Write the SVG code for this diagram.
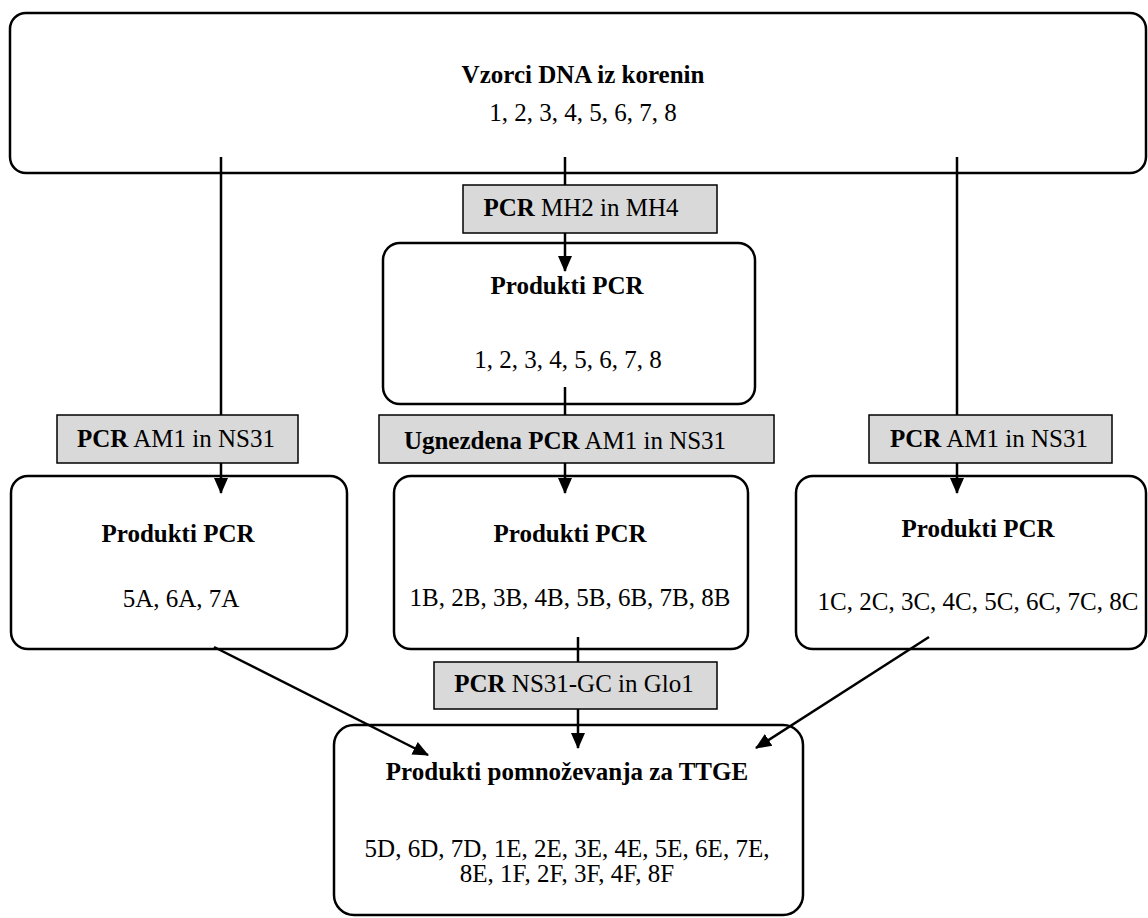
<svg xmlns="http://www.w3.org/2000/svg" width="1148" height="918" viewBox="0 0 1148 918">
<style>
.box{fill:#fff;stroke:#000;stroke-width:2.5}
.lbl{fill:#d9d9d9;stroke:#000;stroke-width:1.5}
.t{font-family:"Liberation Serif","Times New Roman",serif;font-size:25px;text-anchor:middle;fill:#000}
.b{font-weight:bold}
.c{stroke:#000;stroke-width:2.5;fill:none}
</style>
<defs>
<marker id="ah" markerUnits="userSpaceOnUse" markerWidth="16" markerHeight="16" viewBox="0 0 16 16" refX="15" refY="8" orient="auto">
<path d="M0,1 L16,8 L0,15 Z" fill="#000"/>
</marker>
</defs>
<g id="n-top">
<rect class="box" x="10" y="13" width="1136" height="160" rx="16"/>
<text class="t b" x="583" y="83">Vzorci DNA iz korenin</text>
<text class="t" x="583" y="121">1, 2, 3, 4, 5, 6, 7, 8</text>
</g>
<g id="n-lbl-mh">
<rect class="lbl" x="463" y="185" width="254" height="48"/>
<text class="t" x="581" y="216"><tspan class="b">PCR</tspan> MH2 in MH4</text>
</g>
<g id="n-mid1">
<rect class="box" x="383" y="243" width="372" height="161" rx="17"/>
<text class="t b" x="567" y="294">Produkti PCR</text>
<text class="t" x="568" y="368">1, 2, 3, 4, 5, 6, 7, 8</text>
</g>
<g id="n-lbl-left">
<rect class="lbl" x="57" y="415" width="241" height="48"/>
<text class="t" x="176" y="447"><tspan class="b">PCR</tspan> AM1 in NS31</text>
</g>
<g id="n-lbl-mid">
<rect class="lbl" x="379" y="415" width="395" height="48"/>
<text class="t" x="565" y="449"><tspan class="b">Ugnezdena PCR</tspan> AM1 in NS31</text>
</g>
<g id="n-lbl-right">
<rect class="lbl" x="869" y="415" width="243" height="48"/>
<text class="t" x="989" y="447"><tspan class="b">PCR</tspan> AM1 in NS31</text>
</g>
<g id="n-a">
<rect class="box" x="11" y="476" width="336" height="173" rx="17"/>
<text class="t b" x="178" y="542">Produkti PCR</text>
<text class="t" x="181" y="607">5A, 6A, 7A</text>
</g>
<g id="n-b">
<rect class="box" x="394" y="476" width="354" height="173" rx="17"/>
<text class="t b" x="570" y="542">Produkti PCR</text>
<text class="t" x="570" y="606">1B, 2B, 3B, 4B, 5B, 6B, 7B, 8B</text>
</g>
<g id="n-c">
<rect class="box" x="796" y="476" width="350" height="173" rx="17"/>
<text class="t b" x="978" y="537">Produkti PCR</text>
<text class="t" x="978" y="610">1C, 2C, 3C, 4C, 5C, 6C, 7C, 8C</text>
</g>
<g id="n-lbl-ns">
<rect class="lbl" x="434" y="662" width="283" height="47"/>
<text class="t" x="574" y="692"><tspan class="b">PCR</tspan> NS31-GC in Glo1</text>
</g>
<g id="n-ttge">
<rect class="box" x="334" y="725" width="469" height="190" rx="20"/>
<text class="t b" x="567" y="780">Produkti pomnoževanja za TTGE</text>
<text class="t" x="567" y="857">5D, 6D, 7D, 1E, 2E, 3E, 4E, 5E, 6E, 7E,</text>
<text class="t" x="567" y="882">8E, 1F, 2F, 3F, 4F, 8F</text>
</g>
<g id="connectors">
<path class="c" d="M565,157 V185"/>
<path class="c" d="M565,233 V271" marker-end="url(#ah)"/>
<path class="c" d="M565,387 V415"/>
<path class="c" d="M565,463 V493" marker-end="url(#ah)"/>
<path class="c" d="M221,157 V415"/>
<path class="c" d="M221,463 V493" marker-end="url(#ah)"/>
<path class="c" d="M957,157 V415"/>
<path class="c" d="M957,463 V493" marker-end="url(#ah)"/>
<path class="c" d="M578,637 V662"/>
<path class="c" d="M578,709 V748" marker-end="url(#ah)"/>
<path class="c" d="M214,647 L428,755" marker-end="url(#ah)"/>
<path class="c" d="M929,637 L756,748" marker-end="url(#ah)"/>
</g>
</svg>
